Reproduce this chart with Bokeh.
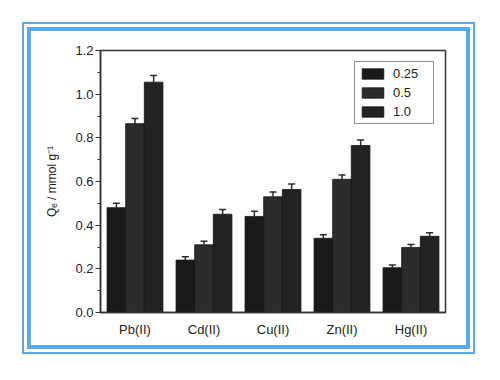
from bokeh.plotting import figure
from bokeh.models import (Range1d, FactorRange, Legend, LegendItem,
                          ColumnDataSource, FixedTicker, PrintfTickFormatter)
from bokeh.transform import dodge
from bokeh.embed import file_html
from bokeh.resources import INLINE

metals = ["Pb(II)", "Cd(II)", "Cu(II)", "Zn(II)", "Hg(II)"]
series_names = ["0.25", "0.5", "1.0"]
q_025 = [0.48, 0.24, 0.44, 0.34, 0.205]
q_05 = [0.865, 0.31, 0.53, 0.61, 0.298]
q_10 = [1.055, 0.45, 0.563, 0.765, 0.349]
err_025 = [0.02, 0.015, 0.024, 0.016, 0.012]
err_05 = [0.023, 0.016, 0.022, 0.02, 0.014]
err_10 = [0.03, 0.022, 0.026, 0.025, 0.016]
y_ticks = [0.0, 0.2, 0.4, 0.6, 0.8, 1.0, 1.2]

FONT = "Liberation Sans"
TXT = "#222222"
BLUE = "#5BA8E6"

W, H = 435, 314
p = figure(width=W, height=H, output_backend="svg", toolbar_location=None,
           x_range=FactorRange(*metals), y_range=Range1d(0, 1.2),
           min_border_left=69, min_border_top=19, min_border_right=21, min_border_bottom=33)
p.background_fill_color = "white"
p.border_fill_color = "white"
p.xgrid.visible = False
p.ygrid.visible = False
p.outline_line_color = "#333333"
p.outline_line_width = 1.5
p.margin = (31, 0, 0, 31)
p.styles = {"box-shadow": f"0 0 0 4px {BLUE}, 0 0 0 7px white, 0 0 0 9px {BLUE}"}

colors = ["#1a1a1a", "#2c2c2c", "#222222"]
vals = [q_025, q_05, q_10]
errs = [err_025, err_05, err_10]
offsets = [-0.27, 0.0, 0.27]
renderers = []
for name, v, e, off, c in zip(series_names, vals, errs, offsets, colors):
    src = ColumnDataSource(dict(metal=metals, top=v, up=[a + b for a, b in zip(v, e)]))
    xd = dodge("metal", off, range=p.x_range)
    r = p.vbar(x=xd, top="top", bottom=0, width=0.27, source=src,
               fill_color=c, line_color="#111111", line_width=0.8)
    renderers.append(r)
    p.segment(x0=xd, y0="top", x1=xd, y1="up", source=src, line_color="#2a2a2a", line_width=1.5)
    p.scatter(x=xd, y="up", source=src, marker="dash", size=7, line_color="#2a2a2a", line_width=1.5)

ya = p.yaxis[0]
ya.ticker = FixedTicker(ticks=y_ticks, minor_ticks=[0.1, 0.3, 0.5, 0.7, 0.9, 1.1])
ya.formatter = PrintfTickFormatter(format="%.1f")
ya.major_tick_out = 5
ya.major_tick_in = 0
ya.minor_tick_out = 3
ya.minor_tick_in = 0
ya.major_label_standoff = 2
ya.axis_label = "Qₑ / mmol g⁻¹"
ya.axis_label_text_font = FONT
ya.axis_label_text_font_size = "12px"
ya.axis_label_text_font_style = "normal"
ya.axis_label_text_color = TXT
ya.axis_label_standoff = 13
ya.major_label_text_font = FONT
ya.major_label_text_font_size = "13px"
ya.major_label_text_color = TXT
ya.axis_line_color = "#333333"
ya.axis_line_width = 1.5
ya.major_tick_line_color = "#333333"
ya.minor_tick_line_color = "#333333"

xa = p.xaxis[0]
xa.major_tick_out = 0
xa.major_tick_in = 0
xa.minor_tick_out = 0
xa.major_label_standoff = 9
xa.major_label_text_font = FONT
xa.major_label_text_font_size = "13px"
xa.major_label_text_color = TXT
xa.axis_line_color = "#333333"
xa.axis_line_width = 1.5

legend = Legend(items=[LegendItem(label=n, renderers=[r]) for n, r in zip(series_names, renderers)],
                location="top_right", margin=11, padding=4, spacing=4,
                glyph_width=27, glyph_height=13, label_height=13, label_width=36,
                label_standoff=7, border_line_color="#222222", border_line_width=1,
                label_text_font=FONT, label_text_font_size="13px", label_text_color=TXT,
                background_fill_alpha=1.0)
p.add_layout(legend)

open("out.html", "w").write(file_html(p, INLINE))
